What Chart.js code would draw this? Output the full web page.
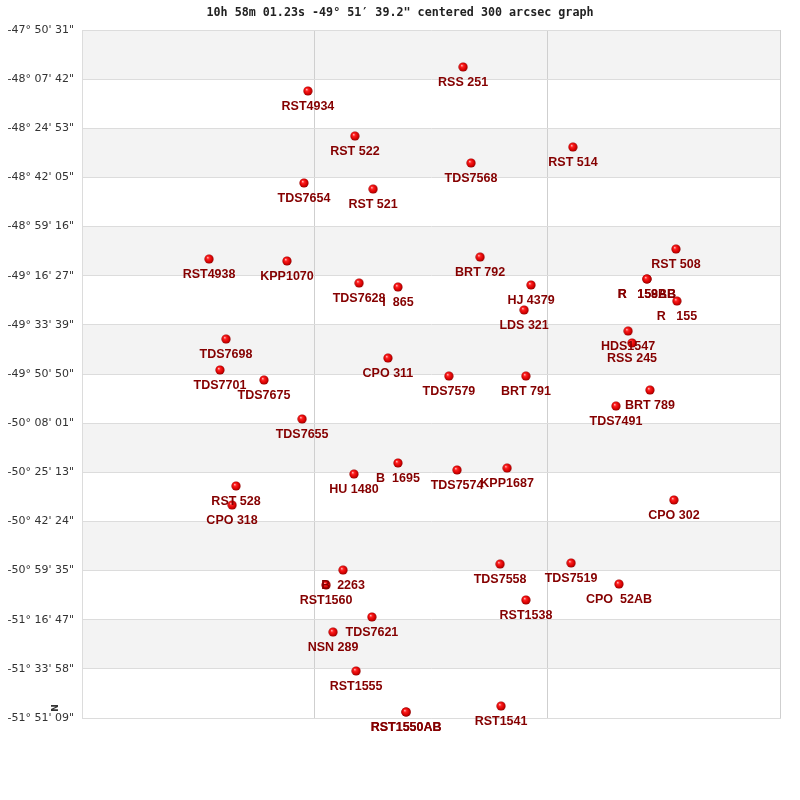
<!DOCTYPE html>
<html>
<head>
<meta charset="utf-8">
<script src="https://cdn.jsdelivr.net/npm/chart.js@4.4.0/dist/chart.umd.min.js"></script>
<style>
html,body{margin:0;padding:0;background:#fff;}
#wrap{width:800px;height:800px;}
</style>
</head>
<body>
<div id="wrap"><canvas id="c" width="800" height="800"></canvas></div>
<script>
const titleText = "10h 58m 01.23s -49\u00b0 51\u2032 39.2\" centered 300 arcsec graph";

const yTickLabels = [
  "-47\u00b0 50' 31\"", "-48\u00b0 07' 42\"", "-48\u00b0 24' 53\"", "-48\u00b0 42' 05\"",
  "-48\u00b0 59' 16\"", "-49\u00b0 16' 27\"", "-49\u00b0 33' 39\"", "-49\u00b0 50' 50\"",
  "-50\u00b0 08' 01\"", "-50\u00b0 25' 13\"", "-50\u00b0 42' 24\"", "-50\u00b0 59' 35\"",
  "-51\u00b0 16' 47\"", "-51\u00b0 33' 58\"", "-51\u00b0 51' 09\""
];
const yTickValues = [
  -47.84194, -48.12842, -48.41489, -48.70137, -48.98784, -49.27432, -49.56080, -49.84727,
  -50.13375, -50.42022, -50.70670, -50.99317, -51.27965, -51.56613, -51.85250
];

const starNames = [
  "RSS 251","RST4934","RST 522","RST 514","TDS7568","TDS7654","RST 521","RST 508",
  "BRT 792","RST4938","KPP1070","R   158AB","R   159BB","TDS7628","I  865","HJ 4379",
  "R   155","LDS 321","HDS1547","RSS 245","TDS7698","CPO 311","TDS7701","TDS7675",
  "TDS7579","BRT 791","BRT 789","TDS7491","TDS7655","B  1695","HU 1480","TDS7574",
  "KPP1687","RST 528","CPO 318","CPO 302","TDS7558","TDS7519","B  2263","RST1560",
  "CPO  52AB","RST1538","TDS7621","NSN 289","RST1555","RST1541","RST1550AB","RST1550AB"
];
const starX = [
  163.8, 97.1, 117.3, 211.0, 167.2, 95.4, 125.1, 255.3,
  171.1, 54.6, 88.1, 242.8, 242.8, 119.1, 135.8, 193.0,
  255.7, 190.0, 234.7, 236.4, 61.9, 131.5, 59.3, 78.2,
  157.7, 190.8, 244.1, 229.5, 94.6, 135.8, 116.9, 161.2,
  182.7, 66.2, 64.5, 254.4, 179.7, 210.2, 112.2, 104.9,
  230.8, 190.8, 124.6, 107.9, 117.8, 180.1, 139.3, 139.3
];
const starDec = [
  -48.0576, -48.1975, -48.4599, -48.5240, -48.6172, -48.7338, -48.7688, -49.1186,
  -49.1652, -49.1769, -49.1885, -49.2934, -49.2934, -49.3168, -49.3401, -49.3284,
  -49.4217, -49.4741, -49.5966, -49.6665, -49.6432, -49.7540, -49.8239, -49.8822,
  -49.8589, -49.8589, -49.9405, -50.0338, -50.1095, -50.3660, -50.4302, -50.4068,
  -50.3952, -50.5001, -50.6109, -50.5817, -50.9548, -50.9489, -50.9898, -51.0772,
  -51.0714, -51.1646, -51.2637, -51.3512, -51.5785, -51.7826, -51.8175, -51.8175
];

// sphere point image
function makeSphere(){
  const s = document.createElement('canvas');
  s.width = 10; s.height = 10;
  const g = s.getContext('2d');
  const grad = g.createRadialGradient(3.6,3.4,0.3,5,5,5);
  grad.addColorStop(0,'#ffb0b0');
  grad.addColorStop(0.25,'#ff2020');
  grad.addColorStop(0.7,'#d40000');
  grad.addColorStop(1,'#7a0000');
  g.fillStyle = grad;
  g.beginPath(); g.arc(5,5,4.6,0,Math.PI*2); g.fill();
  return s;
}
const sphere = makeSphere();

const points = starX.map((x,i)=>({x:x, y:starDec[i]}));

const bandPlugin = {
  id:'bands',
  beforeDraw(chart){
    const ctx = chart.ctx, ys = chart.scales.y, a = chart.chartArea;
    ctx.save();
    ctx.fillStyle = '#fff';
    ctx.fillRect(0,0,chart.width,chart.height);
    ctx.fillStyle = '#f3f3f3';
    for(let i=0;i<yTickValues.length-1;i+=2){
      const y1 = ys.getPixelForValue(yTickValues[i]);
      const y2 = ys.getPixelForValue(yTickValues[i+1]);
      ctx.fillRect(a.left, y1, a.right-a.left, y2-y1);
    }
    ctx.restore();
  }
};

const labelPlugin = {
  id:'labels',
  afterDatasetsDraw(chart){
    const ctx = chart.ctx;
    const meta = chart.getDatasetMeta(0);
    ctx.save();
    ctx.font = 'bold 12.5px "Liberation Sans", Arial, sans-serif';
    ctx.fillStyle = '#850000';
    ctx.textAlign = 'center';
    ctx.textBaseline = 'middle';
    meta.data.forEach((el,i)=>{
      ctx.fillText(starNames[i], el.x, el.y+16);
    });
    ctx.restore();
  },
  afterDraw(chart){
    const ctx = chart.ctx;
    ctx.save();
    ctx.font = 'bold 11.7px "DejaVu Sans Mono", monospace';
    ctx.fillStyle = '#222';
    ctx.textAlign = 'center';
    ctx.textBaseline = 'middle';
    ctx.fillText(titleText, 400, 13);
    // North marker
    ctx.translate(56, 708);
    ctx.rotate(-Math.PI/2);
    ctx.font = 'bold 9px "DejaVu Sans", sans-serif';
    ctx.fillStyle = '#333';
    ctx.fillText('N', 0, 0);
    ctx.restore();
  }
};

new Chart(document.getElementById('c'), {
  type:'scatter',
  data:{datasets:[{
    data: points,
    pointStyle: sphere,
    pointRadius: 5,
    pointHoverRadius: 5
  }]},
  options:{
    responsive:false,
    animation:false,
    devicePixelRatio:1,
    layout:{padding:{top:30,right:20,bottom:82,left:0}},
    plugins:{legend:{display:false},tooltip:{enabled:false},title:{display:false}},
    scales:{
      x:{
        type:'linear', min:0, max:300,
        ticks:{display:false, stepSize:100},
        grid:{color:'#cfcfcf', drawTicks:false, lineWidth:1},
        border:{display:true, color:'#dcdcdc'},
        afterFit(s){ s.height = 0; }
      },
      y:{
        type:'linear', min:yTickValues[yTickValues.length-1], max:yTickValues[0],
        afterBuildTicks(s){ s.ticks = yTickValues.map(v=>({value:v})); },
        ticks:{
          callback:(v,i)=>yTickLabels[i],
          font:{family:'"DejaVu Sans", sans-serif', size:11},
          color:'#333',
          padding:8,
          autoSkip:false
        },
        grid:{color:'#dcdcdc', drawTicks:false},
        border:{display:true, color:'#dcdcdc'},
        afterFit(s){ s.width = 82; }
      }
    }
  },
  plugins:[bandPlugin, labelPlugin]
});
</script>
</body>
</html>
